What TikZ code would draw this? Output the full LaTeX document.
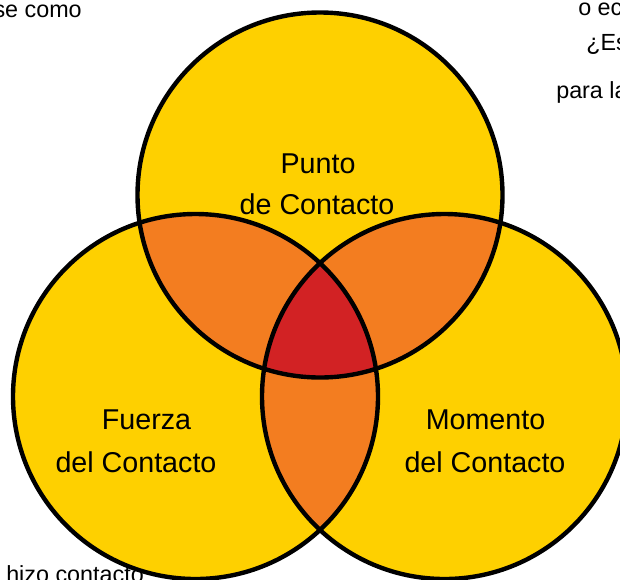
\documentclass[tikz,border=0pt]{standalone}
\usepackage{fontspec}
\setmainfont{Liberation Sans}
\definecolor{vennyellow}{RGB}{254,208,0}
\definecolor{vennorange}{RGB}{243,125,32}
\definecolor{vennred}{RGB}{210,34,36}
\newcommand{\ringtop}{(320,195) circle (182.5)}
\newcommand{\ringleft}{(195.5,396.5) circle (182.5)}
\newcommand{\ringright}{(444.5,396.5) circle (182.5)}
\begin{document}
\begin{tikzpicture}[x=0.75pt,y=0.75pt,yscale=-1,xscale=1,
    labeltext/.style={anchor=base,inner sep=0.75pt,font=\fontsize{21.5}{25}\selectfont},
    sidetext/.style={inner sep=0.75pt,font=\fontsize{17.5}{20}\selectfont},
    ring/.style={draw=black,line width=3.3pt}]
\useasboundingbox (0,0) rectangle (620,579);
% Text Node
\node[sidetext,anchor=base east] (secomo) at (83,17) {se como};
% Text Node
\node[sidetext,anchor=base west] (oec) at (577,15) {o ec};
% Text Node
\node[sidetext,anchor=base west] (es) at (585,50) {¿Es};
% Text Node
\node[sidetext,anchor=base west] (parala) at (555,98) {para la};
% Text Node
\node[sidetext,anchor=base west] (hizo) at (5,582) {hizo contacto};
%Shape: Circle [fills]
\fill[vennyellow] \ringtop;
\fill[vennyellow] \ringleft;
\fill[vennyellow] \ringright;
%Shape: pairwise overlaps
\begin{scope}
  \clip \ringtop;
  \fill[vennorange] \ringleft;
  \fill[vennorange] \ringright;
\end{scope}
\begin{scope}
  \clip \ringleft;
  \fill[vennorange] \ringright;
\end{scope}
%Shape: centre overlap
\begin{scope}
  \clip \ringtop;
  \clip \ringleft;
  \fill[vennred] \ringright;
\end{scope}
%Shape: Circle [outlines]
\draw[ring] \ringtop;
\draw[ring] \ringleft;
\draw[ring] \ringright;
% Text Node
\node[labeltext] (punto) at (318,173) {Punto};
\node[labeltext] (puntob) at (317,214) {de Contacto};
% Text Node
\node[labeltext] (fuerza) at (146.5,429) {Fuerza};
\node[labeltext] (fuerzab) at (136,472) {del Contacto};
% Text Node
\node[labeltext] (momento) at (485.5,429) {Momento};
\node[labeltext] (momentob) at (485,472) {del Contacto};
\end{tikzpicture}
\end{document}
